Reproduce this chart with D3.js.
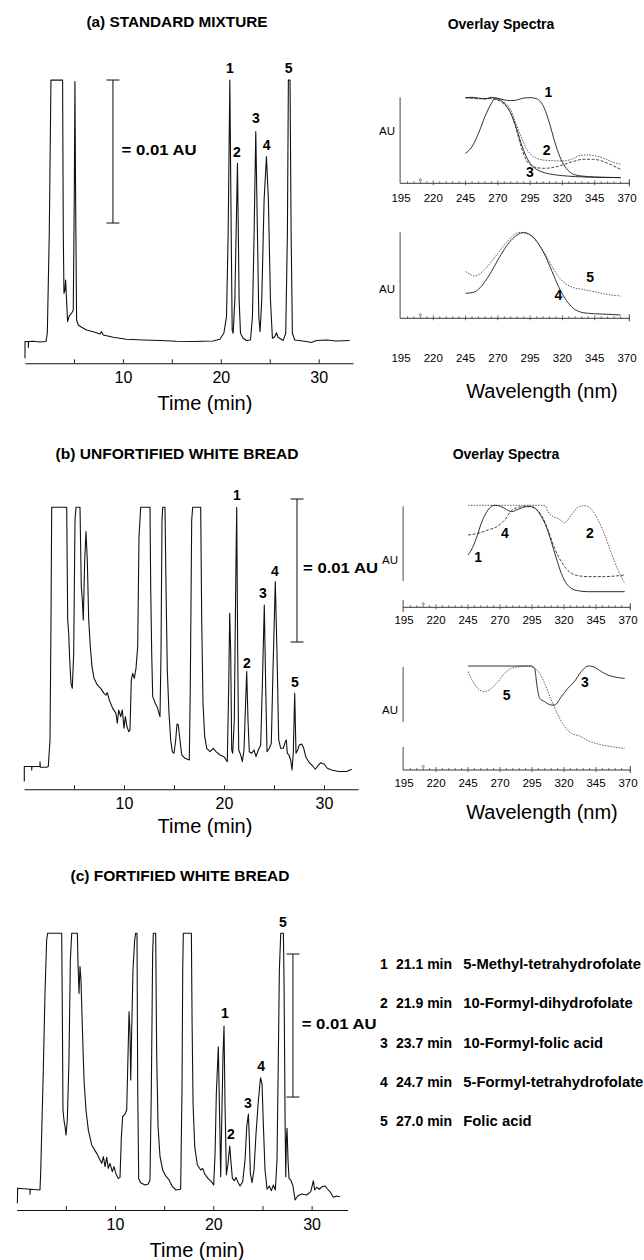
<!DOCTYPE html>
<html><head><meta charset="utf-8">
<script src="https://cdn.jsdelivr.net/npm/d3@7"></script>
<style>
body{margin:0;background:#fff}
svg{display:block}
text{font-family:"Liberation Sans",Arial,Helvetica,sans-serif;fill:#000}
</style>
</head><body>
<svg id="fig" width="644" height="1260"></svg>
<script>
// ---------------- DATA ----------------
const timeTicks = [5, 10, 15, 20, 25, 30];
const timeTickLabels = [10, 20, 30];
const wlTicksMajor = [195, 220, 245, 270, 295, 320, 345, 370];
const panelTitles = ["(a) STANDARD MIXTURE", "(b) UNFORTIFIED WHITE BREAD", "(c) FORTIFIED WHITE BREAD"];
const peakNumbers = ["1", "2", "3", "4", "5"];
const peakTimes = ["21.1 min", "21.9 min", "23.7 min", "24.7 min", "27.0 min"];
const peakNames = ["5-Methyl-tetrahydrofolate", "10-Formyl-dihydrofolate", "10-Formyl-folic acid", "5-Formyl-tetrahydrofolate", "Folic acid"];

// chromatograms: [time (min), absorbance (mAU above axis)]
const chromA = [[0,0.35],[0,1.52],[0.34,1.52],[0.34,1.12],[0.37,1.52],[0.85,1.54],[1.53,1.49],[2.14,1.52],[2.28,2.10],[2.48,9.09],[2.65,19.8],[3.84,19.8],[3.91,9.09],[3.98,4.90],[4.08,5.13],[4.15,5.83],[4.22,4.78],[4.35,2.91],[4.52,3.31],[4.76,3.50],[4.93,3.73],[5.03,11.42],[5.10,19.7],[5.17,11.42],[5.27,3.03],[5.44,2.68],[5.78,2.52],[6.29,2.33],[6.97,2.21],[7.65,2.05],[7.82,2.21],[7.99,1.98],[9.01,1.82],[10.37,1.68],[12.07,1.63],[13.78,1.59],[15.48,1.54],[17.18,1.52],[19.22,1.56],[19.90,1.68],[20.31,2.10],[20.58,3.26],[20.75,9.09],[20.92,19.8],[21.06,9.09],[21.16,2.33],[21.26,2.10],[21.43,4.43],[21.70,13.99],[21.87,4.43],[22.01,2.10],[22.28,1.75],[22.62,1.59],[23.03,1.63],[23.23,3.26],[23.40,9.09],[23.57,16.20],[23.74,9.09],[23.88,3.26],[24.01,2.21],[24.18,4.43],[24.42,11.42],[24.66,14.45],[24.86,11.42],[25.07,4.43],[25.27,1.75],[25.51,1.86],[25.68,2.14],[25.85,1.82],[26.36,1.59],[26.63,2.10],[26.80,9.09],[26.90,19.8],[27.07,19.8],[27.18,9.09],[27.31,2.10],[27.55,1.63],[28.74,1.52],[29.25,1.45],[29.76,1.59],[30.78,1.63],[31.80,1.56],[33.16,1.59]];

const chromB = [[0.03,0.54],[0.03,1.59],[0.77,1.59],[0.77,1.35],[0.8,1.59],[1.6,1.59],[1.6,1.93],[1.63,1.54],[2.27,1.54],[2.43,1.59],[2.6,3.45],[2.7,11.84],[2.77,19.72],[4.27,19.72],[4.37,11.84],[4.47,10.91],[4.57,9.04],[4.7,7.41],[4.83,7.06],[4.97,9.51],[5.1,18.83],[5.2,19.72],[5.6,19.72],[5.73,14.17],[5.83,13.24],[5.93,11.84],[6.07,16.04],[6.2,18.02],[6.33,16.04],[6.47,11.84],[6.63,9.98],[6.8,8.58],[7.0,7.76],[7.33,7.3],[7.67,7.06],[8.0,6.71],[8.2,6.59],[8.33,6.76],[8.53,6.25],[8.87,5.66],[9.2,5.31],[9.33,4.62],[9.47,5.55],[9.67,5.08],[9.83,5.55],[10.0,4.27],[10.13,5.08],[10.3,4.38],[10.47,4.03],[10.6,4.15],[10.73,7.65],[10.87,8.11],[11.03,7.76],[11.2,8.46],[11.37,9.98],[11.5,17.67],[11.67,19.72],[12.6,19.72],[12.67,14.17],[12.77,9.51],[12.87,6.48],[13.1,6.06],[13.33,5.73],[13.5,5.31],[13.6,5.08],[13.7,9.51],[13.8,18.83],[13.87,19.72],[14.1,19.72],[14.2,14.17],[14.33,8.34],[14.5,5.31],[14.67,3.45],[14.83,2.63],[15.0,2.52],[15.17,3.45],[15.3,4.57],[15.43,4.5],[15.6,3.45],[15.77,2.4],[16.1,2.17],[16.53,2.05],[16.63,7.18],[16.77,18.83],[16.87,19.72],[17.67,19.72],[17.77,11.84],[17.9,6.01],[18.07,3.68],[18.27,2.87],[18.6,2.63],[18.93,2.87],[19.2,2.63],[19.6,2.4],[20.0,2.28],[20.33,1.93],[20.47,7.18],[20.57,12.31],[20.67,9.51],[20.77,2.75],[20.87,2.52],[21.03,4.85],[21.17,14.17],[21.27,19.72],[21.37,9.51],[21.47,2.75],[21.67,2.4],[21.83,1.93],[22.0,2.75],[22.1,4.85],[22.27,8.23],[22.4,4.85],[22.53,2.63],[22.77,2.52],[23.0,2.75],[23.2,2.28],[23.43,2.75],[23.67,3.1],[23.83,7.18],[24.03,12.89],[24.17,7.18],[24.3,2.63],[24.53,2.87],[24.73,3.22],[24.9,8.34],[25.13,14.52],[25.3,9.51],[25.47,3.45],[25.67,2.87],[25.93,2.87],[26.13,3.33],[26.23,3.45],[26.33,2.52],[26.5,2.4],[26.67,2.05],[26.8,1.35],[26.93,2.52],[27.07,6.71],[27.2,2.52],[27.37,2.75],[27.53,3.1],[27.77,3.17],[27.97,2.87],[28.2,2.24],[28.53,1.86],[28.87,1.63],[29.13,1.4],[29.37,1.63],[29.67,1.86],[30.0,1.77],[30.33,1.47],[30.77,1.35],[31.43,1.24],[32.27,1.24],[32.77,1.4]];

const chromC = [[0.07,0.47],[0.1,1.52],[1.36,1.45],[1.36,1.1],[1.39,1.45],[2.37,1.4],[2.44,2.56],[2.58,6.29],[2.71,9.79],[2.88,15.15],[3.05,18.88],[3.15,19.35],[4.58,19.35],[4.65,13.29],[4.71,6.99],[4.81,6.29],[4.92,5.83],[5.02,5.24],[5.15,6.29],[5.32,10.49],[5.46,17.48],[5.6,19.35],[6.17,19.35],[6.24,17.25],[6.34,15.15],[6.44,17.02],[6.54,16.08],[6.68,12.82],[6.85,9.09],[7.05,6.99],[7.29,5.59],[7.63,4.55],[8.14,3.96],[8.48,3.5],[8.65,3.26],[8.82,3.73],[8.99,3.03],[9.16,3.68],[9.32,2.91],[9.49,3.26],[9.73,2.68],[9.9,3.03],[10.1,2.52],[10.34,2.21],[10.51,2.28],[10.65,5.13],[10.78,6.53],[11.02,6.71],[11.19,6.99],[11.33,10.96],[11.43,13.87],[11.53,12.35],[11.6,9.09],[11.7,12.59],[11.83,16.78],[12.0,18.88],[12.1,19.35],[12.24,19.35],[12.31,8.62],[12.41,2.21],[12.61,1.91],[13.06,1.75],[13.39,1.82],[13.56,2.1],[13.7,8.62],[13.83,17.95],[13.9,19.35],[14.14,19.35],[14.24,10.96],[14.38,5.83],[14.58,3.73],[14.85,2.8],[15.16,2.38],[15.5,2.1],[15.84,1.63],[16.21,1.4],[16.68,1.45],[16.82,8.62],[16.89,16.78],[16.95,19.35],[17.77,19.35],[17.84,13.29],[17.94,7.46],[18.11,4.43],[18.38,3.15],[18.72,2.8],[18.92,2.91],[19.13,2.52],[19.46,2.21],[19.8,1.98],[20.04,1.75],[20.18,3.96],[20.31,8.16],[20.51,11.42],[20.65,6.29],[20.75,2.33],[20.86,6.29],[20.99,10.96],[21.09,12.86],[21.19,7.46],[21.33,2.45],[21.5,3.26],[21.67,4.48],[21.81,3.26],[21.94,2.21],[22.14,2.05],[22.31,2.28],[22.48,1.98],[22.72,1.68],[22.99,1.98],[23.23,3.5],[23.4,5.83],[23.57,6.71],[23.67,4.9],[23.77,2.56],[23.94,1.91],[24.14,2.8],[24.35,5.4],[24.58,7.6],[24.8,9.25],[24.96,8.8],[25.09,6.0],[25.26,2.8],[25.47,1.45],[25.7,1.68],[25.91,1.35],[26.11,1.75],[26.31,1.4],[26.48,3.5],[26.62,10.96],[26.72,16.78],[26.86,19.35],[27.13,19.35],[27.2,15.62],[27.3,6.29],[27.37,2.33],[27.43,4.9],[27.5,5.71],[27.6,3.5],[27.7,2.21],[27.87,2.1],[28.08,1.75],[28.32,0.7],[28.58,0.98],[28.99,1.12],[29.5,1.05],[29.91,1.28],[30.08,1.75],[30.18,2.05],[30.31,1.4],[30.52,1.59],[30.79,1.45],[31.06,1.63],[31.37,1.68],[31.64,1.45],[31.94,1.21],[32.21,0.89],[32.55,0.98],[32.88,0.93]];

// peak label anchors [label, time, mAU]
const peakLabelsA = [["1",20.92,20.65],["2",21.63,14.78],["3",23.57,17.15],["4",24.69,15.27],["5",26.94,20.65]];
const peakLabelsB = [["1",21.3,20.58],["2",22.3,8.83],["3",23.9,13.73],["4",25.1,15.27],["5",27.1,7.5]];
const peakLabelsC = [["1",21.19,13.78],["2",21.8,5.31],["3",23.53,7.48],["4",24.86,10.07],["5",27.09,20.14]];
// 0.01 AU scale bars: [time, from mAU, to mAU]
const scaleBars = [[8.98, 9.81, 19.81], [27.3, 10.3, 20.3], [28.1, 7.9, 17.9]];
const scaleBarText = "= 0.01 AU";
const scaleTextAnchor = [[9.87, 14.92], [27.9, 15.48], [28.99, 13.0]];

// overlay spectra: [wavelength (nm), normalised absorbance]
const specA1 = [[245,0.996],[250,1.0],[255,0.992],[260,0.98],[265,1.0],[270,0.988],[275,0.969],[280,0.961],[285,0.969],[290,0.992],[295,0.996],[300,0.984],[303,0.95],[306,0.872],[310,0.698],[314,0.484],[318,0.31],[322,0.194],[326,0.128],[330,0.097],[340,0.078],[350,0.07],[365,0.066]];
const specA1b = [[245,0.349],[250,0.426],[255,0.581],[260,0.775],[265,0.93],[268,0.988],[272,0.969],[276,0.91],[280,0.814],[284,0.659],[288,0.465],[292,0.31],[296,0.213],[300,0.163],[305,0.128],[310,0.109],[320,0.089],[330,0.078],[345,0.07],[365,0.066]];
const specA2 = [[245,0.996],[255,0.984],[262,0.984],[268,0.977],[274,0.95],[280,0.853],[284,0.698],[288,0.543],[292,0.407],[296,0.329],[300,0.291],[305,0.271],[312,0.264],[320,0.26],[327,0.279],[334,0.326],[340,0.329],[346,0.318],[352,0.291],[358,0.252],[365,0.221]];
const specA3 = [[245,0.996],[255,0.984],[262,0.988],[268,0.977],[274,0.93],[280,0.814],[284,0.64],[288,0.426],[292,0.271],[296,0.205],[300,0.182],[306,0.174],[312,0.182],[320,0.213],[328,0.252],[336,0.279],[344,0.279],[352,0.252],[358,0.213],[365,0.163]];
const specA4 = [[245,0.291],[250,0.298],[255,0.337],[260,0.426],[265,0.543],[270,0.678],[275,0.802],[280,0.903],[285,0.969],[290,0.996],[293,0.988],[297,0.95],[302,0.853],[307,0.717],[312,0.543],[317,0.368],[322,0.233],[327,0.136],[333,0.078],[340,0.058],[350,0.05],[365,0.039]];
const specA5 = [[245,0.543],[248,0.516],[252,0.492],[256,0.516],[260,0.57],[265,0.659],[270,0.756],[275,0.853],[280,0.938],[284,0.988],[288,1.0],[292,0.988],[297,0.942],[302,0.853],[307,0.736],[312,0.601],[317,0.484],[322,0.407],[328,0.36],[335,0.337],[342,0.318],[350,0.291],[358,0.271],[365,0.26]];

const specB1 = [[245,0.513],[247.6,0.562],[251.5,0.676],[255.4,0.824],[260.6,0.954],[265.8,1.0],[269.7,0.993],[275,0.96],[278.9,0.938],[284,0.96],[290.6,0.987],[294.5,0.987],[298.4,0.96],[302.3,0.889],[306.2,0.79],[310.1,0.643],[314,0.48],[317.9,0.333],[321.8,0.235],[325.7,0.186],[330.9,0.163],[338.8,0.153],[367.4,0.153]];
const specB4 = [[245,0.709],[252.8,0.725],[260.6,0.758],[268.4,0.797],[273.6,0.856],[278.9,0.948],[284,0.98],[291.9,0.993],[297.1,0.97],[302.3,0.905],[307.5,0.758],[312.7,0.578],[317.9,0.448],[323.1,0.36],[329.6,0.314],[338.8,0.301],[351.8,0.301],[367.4,0.317]];
const specB2 = [[245,1.0],[304.9,1.0],[307.5,0.938],[311.4,0.889],[315.3,0.872],[320.5,0.83],[325.7,0.905],[330.9,0.98],[336.1,0.997],[341.4,0.96],[346.6,0.856],[351.8,0.709],[357,0.529],[362.2,0.366],[367.4,0.235]];
const specB3 = [[245,1.0],[294.5,1.0],[297,0.978],[299,0.80],[301,0.69],[304.9,0.657],[310,0.625],[312.7,0.625],[317.9,0.705],[323,0.785],[328,0.849],[333.5,0.946],[338.8,1.0],[342.7,0.994],[349.2,0.946],[354.4,0.913],[360.9,0.891],[367.4,0.881]];
const specB5 = [[245,0.946],[248.9,0.849],[254.1,0.769],[258,0.753],[263.2,0.785],[268.4,0.849],[273.6,0.93],[278.9,0.978],[285.4,0.994],[291.9,1.0],[297.1,0.978],[301,0.93],[304.9,0.833],[310.1,0.673],[315.3,0.529],[320.5,0.417],[325.7,0.353],[332.2,0.327],[338.8,0.282],[346.6,0.25],[357,0.224],[367.4,0.208]];

// spectra labels [label, nm, value]
const specLabelsAU = [["1",309.1,1.065],["2",307.8,0.387],["3",294.9,0.128]];
const specLabelsAL = [["5",341.4,0.484],["4",316.8,0.271]];
const specLabelsBU = [["4",273.9,0.725],["2",340.3,0.725],["1",253,0.496]];
const specLabelsBL = [["5",275.2,0.721],["3",336.4,0.849]];

// ---------------- DRAWING ----------------
const svg = d3.select("#fig");
svg.append("rect").attr("width",644).attr("height",1260).attr("fill","#fff");

function boldText(g, x, y, s, size, anchor, len) {
  const t = g.append("text").attr("x", x).attr("y", y).text(s)
    .attr("font-size", size).attr("font-weight", "bold").attr("text-anchor", anchor || "start");
  if (len) t.attr("textLength", len).attr("lengthAdjust", "spacingAndGlyphs");
  return t;
}

function chromatogram(cfg) {
  const g = svg.append("g");
  const x = d3.scaleLinear().domain(cfg.xDomain).range(cfg.xRange);
  const y = d3.scaleLinear().domain([0, 10]).range([cfg.axisY, cfg.axisY - 143]);
  const ax = d3.axisBottom(x).tickValues(timeTicks).tickSizeInner(-4).tickSizeOuter(0).tickPadding(8.5)
    .tickFormat(d => timeTickLabels.includes(d) ? d : "");
  const axg = g.append("g").attr("transform", `translate(0,${cfg.axisY})`).call(ax);
  axg.select(".domain").attr("stroke", "#111").attr("stroke-width", 1.1);
  axg.selectAll(".tick line").attr("stroke", "#222");
  axg.selectAll(".tick text").attr("font-size", 16).attr("fill", "#000")
    .attr("font-family", '"Liberation Sans",Arial,sans-serif');
  const line = d3.line().x(d => x(d[0])).y(d => y(d[1]));
  g.append("path").datum(cfg.data).attr("d", line).attr("fill", "none")
    .attr("stroke", "#111").attr("stroke-width", 1.1).attr("stroke-linejoin", "round");
  const sb = cfg.bar;
  g.append("line").attr("x1", x(sb[0])).attr("x2", x(sb[0])).attr("y1", y(sb[1])).attr("y2", y(sb[2]))
    .attr("stroke", "#222").attr("stroke-width", 1.1);
  [sb[1], sb[2]].forEach(v => g.append("line").attr("x1", x(sb[0]) - 6.5).attr("x2", x(sb[0]) + 6.5)
    .attr("y1", y(v)).attr("y2", y(v)).attr("stroke", "#222").attr("stroke-width", 1.1));
  boldText(g, x(cfg.barText[0]), y(cfg.barText[1]) + 5, scaleBarText, 14, "start", 75);
  cfg.labels.forEach(l => boldText(g, x(l[1]), y(l[2]) + 5, l[0], 14, "middle"));
  boldText(g, cfg.titleX, cfg.titleY, cfg.title, 14, "middle", cfg.titleLen);
  g.append("text").attr("x", cfg.xlabX).attr("y", cfg.xlabY).attr("text-anchor", "middle")
    .attr("font-size", 20).text("Time (min)");
}

chromatogram({data: chromA, xDomain: [0, 33.5], xRange: [25, 353], axisY: 363.3, bar: scaleBars[0],
  barText: scaleTextAnchor[0], labels: peakLabelsA, title: panelTitles[0], titleX: 177, titleY: 27.3, titleLen: 181,
  xlabX: 205, xlabY: 410});
chromatogram({data: chromB, xDomain: [0, 33.4], xRange: [24, 358], axisY: 789.3, bar: scaleBars[1],
  barText: scaleTextAnchor[1], labels: peakLabelsB, title: panelTitles[1], titleX: 177, titleY: 459, titleLen: 243,
  xlabX: 205, xlabY: 833});
chromatogram({data: chromC, xDomain: [0, 33.65], xRange: [16.67, 347.5], axisY: 1210, bar: scaleBars[2],
  barText: scaleTextAnchor[2], labels: peakLabelsC, title: panelTitles[2], titleX: 180, titleY: 880.7, titleLen: 219,
  xlabX: 197, xlabY: 1256.5});

const styles = {
  solid: {stroke: "#1a1a1a", dash: null, w: 0.9},
  dashed: {stroke: "#333", dash: "3,1.6", w: 0.9},
  dotted: {stroke: "#555", dash: "1.6,1.2", w: 0.9}
};

function spectrum(cfg) {
  const g = svg.append("g");
  const x = d3.scaleLinear().domain([195, 370]).range(cfg.xRange);
  const y = d3.scaleLinear().domain([0, 1]).range([cfg.axisY, cfg.topY]);
  g.append("line").attr("x1", x(194.3)).attr("x2", x(371.8)).attr("y1", cfg.axisY).attr("y2", cfg.axisY)
    .attr("stroke", "#222").attr("stroke-width", 0.9);
  g.append("line").attr("x1", x(371.8)).attr("x2", x(371.8)).attr("y1", cfg.axisY - 4).attr("y2", cfg.axisY + 3)
    .attr("stroke", "#222").attr("stroke-width", 0.9);
  d3.range(200, 370, 5).forEach(v => {
    const major = wlTicksMajor.includes(v);
    g.append("line").attr("x1", x(v)).attr("x2", x(v)).attr("y1", cfg.axisY - (major ? 3 : 2))
      .attr("y2", cfg.axisY + (major ? 2 : 0)).attr("stroke", "#333").attr("stroke-width", 0.7);
  });
  g.append("circle").attr("cx", x(210)).attr("cy", cfg.axisY - 3.5).attr("r", 1.1)
    .attr("fill", "none").attr("stroke", "#444").attr("stroke-width", 0.6);
  cfg.ySegs.forEach(s => g.append("line").attr("x1", x(194.3)).attr("x2", x(194.3))
    .attr("y1", y(s[0])).attr("y2", y(s[1])).attr("stroke", "#333").attr("stroke-width", 0.9));
  wlTicksMajor.forEach(v => g.append("text").attr("x", x(v)).attr("y", cfg.tickY).attr("text-anchor", "middle")
    .attr("font-size", 11.5).text(v));
  g.append("text").attr("x", x(194.3) - 13).attr("y", cfg.auY).attr("text-anchor", "middle")
    .attr("font-size", 11.5).text("AU");
  const line = d3.line().x(d => x(d[0])).y(d => y(d[1])).curve(d3.curveMonotoneX);
  cfg.curves.forEach(c => {
    const st = styles[c.style];
    g.append("path").datum(c.data).attr("d", line).attr("fill", "none").attr("stroke", st.stroke)
      .attr("stroke-width", st.w).attr("stroke-dasharray", st.dash);
  });
  cfg.labels.forEach(l => boldText(g, x(l[1]), y(l[2]) + 5, l[0], 14, "middle"));
  if (cfg.title) boldText(g, cfg.title[0], cfg.title[1], "Overlay Spectra", 14, "middle");
  if (cfg.xlab) g.append("text").attr("x", cfg.xlab[0]).attr("y", cfg.xlab[1]).attr("text-anchor", "middle")
    .attr("font-size", 20).text("Wavelength (nm)");
}

spectrum({xRange: [401, 627], axisY: 183.3, topY: 97.3, ySegs: [[0, 1]], tickY: 201.7, auY: 135,
  curves: [{data: specA1b, style: "solid"}, {data: specA3, style: "dashed"}, {data: specA2, style: "dotted"}, {data: specA1, style: "solid"}],
  labels: specLabelsAU, title: [501, 29.3]});
spectrum({xRange: [401, 627], axisY: 318.3, topY: 232.3, ySegs: [[0, 1]], tickY: 361.7, auY: 292.5,
  curves: [{data: specA5, style: "dotted"}, {data: specA4, style: "solid"}],
  labels: specLabelsAL, xlab: [542, 398]});
spectrum({xRange: [404, 628], axisY: 607.3, topY: 505.3, ySegs: [[0.258, 0.99], [-0.046, 0.07]], tickY: 624, auY: 564,
  curves: [{data: specB2, style: "dotted"}, {data: specB4, style: "dashed"}, {data: specB1, style: "solid"}],
  labels: specLabelsBU, title: [506, 459]});
spectrum({xRange: [404, 628], axisY: 770, topY: 666, ySegs: [[0.462, 0.99], [0, 0.221]], tickY: 786.7, auY: 714,
  curves: [{data: specB5, style: "dotted"}, {data: specB3, style: "solid"}],
  labels: specLabelsBL, xlab: [542, 819]});

// legend
const lg = svg.append("g");
const legendY = [969, 1008, 1048, 1087, 1126];
peakNumbers.forEach((n, i) => {
  boldText(lg, 380, legendY[i], n, 14, "start");
  boldText(lg, 396, legendY[i], peakTimes[i], 14, "start");
  boldText(lg, 463.3, legendY[i], peakNames[i], 14.8, "start");
});
</script>
</body></html>
